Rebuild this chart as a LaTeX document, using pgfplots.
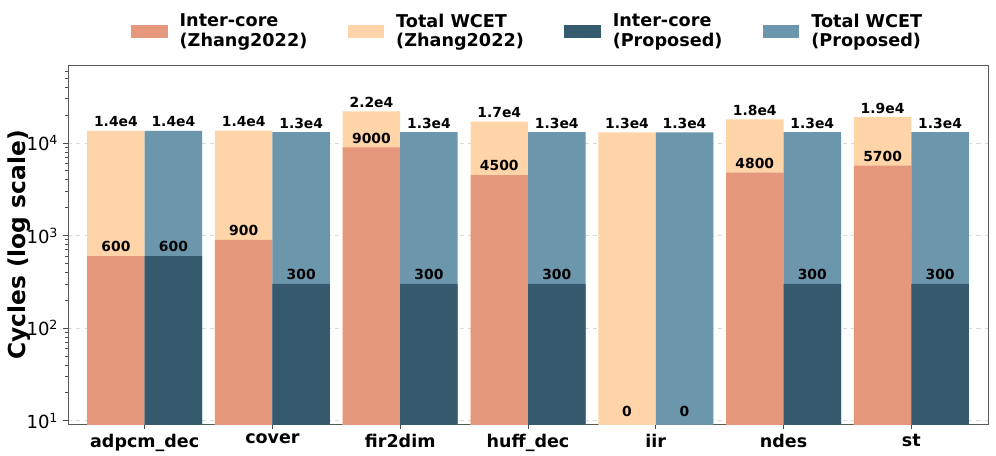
\documentclass[border=0pt]{standalone}
\usepackage{pgfplots}
\pgfplotsset{compat=1.18}
\usepackage{fontspec}
\setmainfont{DejaVu Sans}
\definecolor{izh}{RGB}{229,152,124}
\definecolor{tzh}{RGB}{255,212,168}
\definecolor{ipr}{RGB}{53,90,110}
\definecolor{tpr}{RGB}{107,150,171}
\begin{document}
\begin{tikzpicture}
\begin{axis}[
  scale only axis, width=662.4pt, height=257.8pt,
  ymode=log, ymin=9.2, ymax=68000,
  xmin=-0.6, xmax=6.6,
  xtick={0,1,2,3,4,5,6},
  xticklabels={adpcm\_dec,cover,fir2dim,huff\_dec,iir,ndes,st},
  ytick={10,100,1000,10000},
  yticklabels={10\textsuperscript{1},10\textsuperscript{2},10\textsuperscript{3},10\textsuperscript{4}},
  minor ytick={20,30,40,50,60,70,80,90,200,300,400,500,600,700,800,900,2000,3000,4000,5000,6000,7000,8000,9000,20000,30000,40000,50000,60000},
  tick align=outside, tick pos=left,
  major tick length=3.5pt, minor tick length=2pt,
  every tick/.style={black!70, line width=0.6pt},
  axis line style={black!65, line width=0.7pt},
  ymajorgrids, grid style={gray!30, dashed, line width=0.5pt},
  ylabel={Cycles (log scale)},
  ylabel style={font=\bfseries\fontsize{16.8}{19}\selectfont, at={(axis description cs:-0.0533,0.5)}, anchor=center},
  yticklabel style={font=\fontsize{13}{15}\selectfont},
  xticklabel style={font=\bfseries\fontsize{12.6}{15}\selectfont},
  legend image code/.code={\fill[#1] (0pt,-4.4pt) rectangle (25.6pt,4.4pt);},
  legend columns=4,
  legend style={at={(0.5,1.0)}, anchor=south, yshift=8pt, draw=none, fill=none,
    font=\bfseries\fontsize{12.7}{14.2}\selectfont,
    nodes={align=left},
    /tikz/every odd column/.append style={column sep=7pt},
    /tikz/every even column/.append style={column sep=27pt}},
  legend cell align=left,
  nodes near coords style={font=\bfseries\fontsize{10}{12}\selectfont, anchor=base, yshift=3pt, inner sep=0pt, text=black},
]
\addlegendimage{izh}
\addlegendentry{Inter-core\\(Zhang2022)}
\addlegendimage{tzh}
\addlegendentry{Total WCET\\(Zhang2022)}
\addlegendimage{ipr}
\addlegendentry{Inter-core\\(Proposed)}
\addlegendimage{tpr}
\addlegendentry{Total WCET\\(Proposed)}

% bars
\addplot[ybar, bar width=0.45, bar shift=-0.225, fill=tzh, draw=none, forget plot]
  coordinates {(0,13500) (1,13600) (2,22000) (3,17000) (4,13000) (5,18000) (6,19000)};
\addplot[ybar, bar width=0.45, bar shift=-0.225, fill=izh, draw=none, forget plot]
  coordinates {(0,600) (1,900) (2,9000) (3,4500) (5,4800) (6,5700)};
\addplot[ybar, bar width=0.45, bar shift=0.225, fill=tpr, draw=none, forget plot]
  coordinates {(0,13500) (1,13100) (2,13100) (3,13100) (4,13000) (5,13100) (6,13100)};
\addplot[ybar, bar width=0.45, bar shift=0.225, fill=ipr, draw=none, forget plot]
  coordinates {(0,600) (1,300) (2,300) (3,300) (5,300) (6,300)};

% value labels
\addplot[draw=none, mark=none, forget plot, nodes near coords, point meta=explicit symbolic]
  coordinates {(-0.225,13500) [1.4e4] (0.775,13600) [1.4e4] (1.775,22000) [2.2e4] (2.775,17000) [1.7e4] (3.775,13000) [1.3e4] (4.775,18000) [1.8e4] (5.775,19000) [1.9e4]};
\addplot[draw=none, mark=none, forget plot, nodes near coords, point meta=explicit symbolic]
  coordinates {(-0.225,600) [600] (0.775,900) [900] (1.775,9000) [9000] (2.775,4500) [4500] (3.775,10) [0] (4.775,4800) [4800] (5.775,5700) [5700]};
\addplot[draw=none, mark=none, forget plot, nodes near coords, point meta=explicit symbolic]
  coordinates {(0.225,13500) [1.4e4] (1.225,13100) [1.3e4] (2.225,13100) [1.3e4] (3.225,13100) [1.3e4] (4.225,13000) [1.3e4] (5.225,13100) [1.3e4] (6.225,13100) [1.3e4]};
\addplot[draw=none, mark=none, forget plot, nodes near coords, point meta=explicit symbolic]
  coordinates {(0.225,600) [600] (1.225,300) [300] (2.225,300) [300] (3.225,300) [300] (4.225,10) [0] (5.225,300) [300] (6.225,300) [300]};
\end{axis}
\path (current axis.south west) ++(-48.96pt,-20.9pt) coordinate (bbA);
\path (current axis.north east) ++(5.76pt,47.5pt) coordinate (bbB);
\path (bbA) rectangle (bbB);
\end{tikzpicture}
\end{document}
